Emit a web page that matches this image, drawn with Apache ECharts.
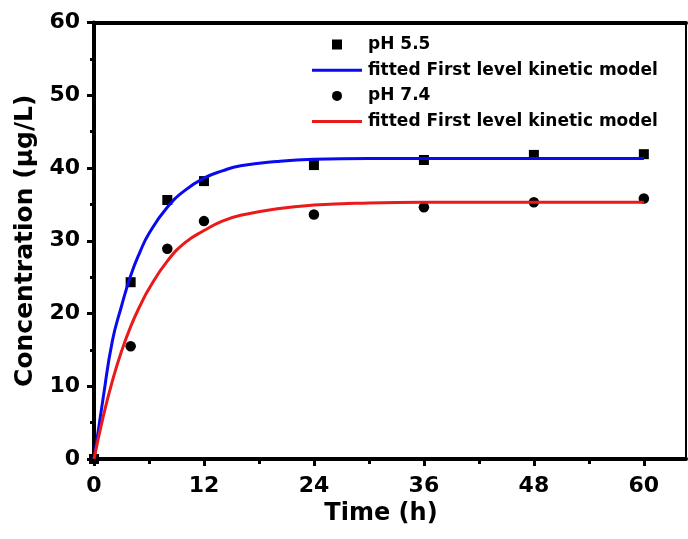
<!DOCTYPE html>
<html>
<head>
<meta charset="utf-8">
<title>Release kinetics</title>
<script src="https://cdn.jsdelivr.net/npm/echarts@6/dist/echarts.min.js"></script>
<style>
  html, body { margin: 0; padding: 0; background: #ffffff; }
  #chart { width: 688px; height: 539px; }
</style>
</head>
<body>
<div id="chart"></div>
<script>
// Measured release, time in hours
const timePoints = [0, 4, 8, 12, 24, 36, 48, 60];
const ph55Values = [0, 24.3, 35.6, 38.2, 40.4, 41.1, 41.8, 41.9];
const ph74Values = [0, 15.5, 28.9, 32.7, 33.6, 34.6, 35.3, 35.8];

// Fitted first-order curves, sampled along the time axis
const fitTimes = [0, 1, 2, 3, 4, 5, 6, 8, 10, 12, 14, 16, 20, 24, 30, 36, 48, 60];
const fit55Values = [0, 8.4, 16.2, 21.0, 25.2, 28.4, 31.0, 34.6, 37.0, 38.6, 39.6, 40.3, 40.9, 41.2, 41.3, 41.3, 41.3, 41.3];
const fit74Values = [0, 5.8, 10.7, 14.8, 18.2, 21.0, 23.4, 27.2, 29.8, 31.4, 32.7, 33.5, 34.4, 34.9, 35.2, 35.3, 35.3, 35.3];

// Axis ticks
const xMajorTicks = [0, 12, 24, 36, 48, 60];
const xMinorTicks = [6, 18, 30, 42, 54];

const seriesNames = ['pH 5.5', 'fitted First level kinetic model ', 'pH 7.4', 'fitted First level kinetic model'];

const pairs = (xs, ys) => xs.map((x, i) => [x, ys[i]]);

const FONT = 'DejaVu Sans';
const X_MAX = 64.6;
const BLUE = '#0a0aee';
const RED = '#ea1a1a';

const chart = echarts.init(document.getElementById('chart'), null, { renderer: 'canvas' });

chart.setOption({
  animation: false,
  backgroundColor: '#ffffff',
  grid: { left: 94, right: 2, top: 22.5, bottom: 80, containLabel: false },
  legend: {
    orient: 'vertical',
    left: 307,
    top: 31,
    itemWidth: 50,
    itemHeight: 10,
    itemGap: 8.7,
    symbolKeepAspect: true,
    selectedMode: false,
    textStyle: {
      fontFamily: FONT, fontWeight: 'bold', fontSize: 17, color: '#000',
      lineHeight: 17, padding: [0, 0, 0, 1]
    },
    data: [
      { name: seriesNames[0], icon: 'path://M0,0L10,0L10,10L0,10Z' },
      { name: seriesNames[1], icon: 'path://M0,0L50,0L50,3L0,3Z' },
      { name: seriesNames[2], icon: 'circle' },
      { name: seriesNames[3], icon: 'path://M0,0L50,0L50,3L0,3Z' }
    ]
  },
  xAxis: [
    {
      type: 'value', position: 'bottom', min: 0, max: X_MAX,
      name: 'Time (h)', nameLocation: 'middle', nameGap: 41,
      nameTextStyle: { fontFamily: FONT, fontWeight: 'bold', fontSize: 24, color: '#000', padding: [0, 18, 0, 0] },
      axisLine: { show: true, onZero: false, lineStyle: { color: '#000', width: 4 } },
      axisTick: { show: true, inside: false, length: 7, customValues: xMajorTicks, lineStyle: { color: '#000', width: 3 } },
      axisLabel: { show: true, margin: 16, customValues: xMajorTicks, fontFamily: FONT, fontWeight: 'bold', fontSize: 22, color: '#000' },
      splitLine: { show: false }
    },
    {
      type: 'value', position: 'bottom', min: 0, max: X_MAX,
      axisLine: { show: false },
      axisTick: { show: true, inside: false, length: 5, customValues: xMinorTicks, lineStyle: { color: '#000', width: 3 } },
      axisLabel: { show: false },
      splitLine: { show: false }
    },
    {
      type: 'value', position: 'top', min: 0, max: X_MAX,
      axisLine: { show: true, onZero: false, lineStyle: { color: '#000', width: 4 } },
      axisTick: { show: false },
      axisLabel: { show: false },
      splitLine: { show: false }
    }
  ],
  yAxis: [
    {
      type: 'value', position: 'left', min: 0, max: 60, interval: 10,
      name: 'Concentration (μg/L)', nameLocation: 'middle', nameGap: 54, nameRotate: 90,
      nameTextStyle: { fontFamily: FONT, fontWeight: 'bold', fontSize: 25, color: '#000' },
      axisLine: { show: true, onZero: false, lineStyle: { color: '#000', width: 4 } },
      axisTick: { show: true, inside: false, length: 7, lineStyle: { color: '#000', width: 3 } },
      minorTick: { show: true, splitNumber: 2, length: 4, lineStyle: { color: '#000', width: 3 } },
      axisLabel: { show: true, margin: 14, fontFamily: FONT, fontWeight: 'bold', fontSize: 22, color: '#000' },
      splitLine: { show: false },
      minorSplitLine: { show: false }
    },
    {
      type: 'value', position: 'right', min: 0, max: 60,
      axisLine: { show: true, onZero: false, lineStyle: { color: '#000', width: 2 } },
      axisTick: { show: false },
      axisLabel: { show: false },
      splitLine: { show: false }
    }
  ],
  series: [
    {
      name: seriesNames[0], type: 'scatter', xAxisIndex: 0, yAxisIndex: 0,
      symbol: 'rect', symbolSize: 10, color: '#000', itemStyle: { color: '#000', opacity: 1 },
      data: pairs(timePoints, ph55Values), z: 2
    },
    {
      name: seriesNames[1], type: 'line', xAxisIndex: 0, yAxisIndex: 0,
      symbol: 'none', smooth: 0.5, color: BLUE,
      itemStyle: { color: BLUE }, lineStyle: { color: BLUE, width: 3 },
      data: pairs(fitTimes, fit55Values), z: 3
    },
    {
      name: seriesNames[2], type: 'scatter', xAxisIndex: 0, yAxisIndex: 0,
      symbol: 'circle', symbolSize: 10.5, color: '#000', itemStyle: { color: '#000', opacity: 1 },
      data: pairs(timePoints, ph74Values), z: 2
    },
    {
      name: seriesNames[3], type: 'line', xAxisIndex: 0, yAxisIndex: 0,
      symbol: 'none', smooth: 0.5, color: RED,
      itemStyle: { color: RED }, lineStyle: { color: RED, width: 3 },
      data: pairs(fitTimes, fit74Values), z: 3
    }
  ]
});
</script>
</body>
</html>
